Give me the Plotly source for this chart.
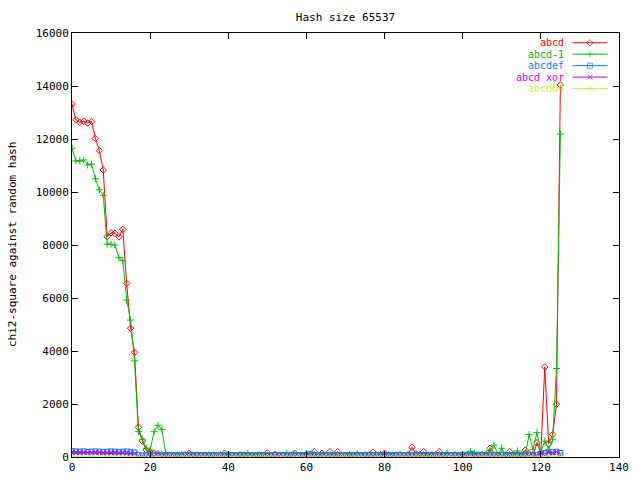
import plotly.graph_objects as go

x_vals = list(range(126))

abcd = [
    13320, 12720, 12630, 12670, 12600, 12660, 12020, 11560, 10830, 8310,
    8460, 8440, 8310, 8590, 6550, 4860, 3950, 1120, 600, 260,
    180, 150, 120, 90, 60, 50, 40, 60, 50, 80,
    140, 60, 50, 40, 70, 50, 60, 40, 80, 140,
    90, 60, 50, 70, 40, 60, 50, 40, 70, 60,
    150, 60, 100, 50, 40, 60, 70, 140, 60, 50,
    80, 60, 200, 60, 140, 50, 200, 60, 200, 60,
    50, 80, 60, 70, 50, 60, 80, 180, 60, 90,
    140, 60, 50, 70, 80, 60, 90, 370, 120, 60,
    200, 60, 50, 80, 200, 60, 70, 50, 80, 60,
    90, 60, 80, 50, 60, 90, 70, 330, 80, 60,
    90, 60, 200, 70, 80, 60, 260, 120, 80, 540,
    140, 3400, 500, 850, 1990, 14040]

abcd_1 = [
    11650, 11170, 11170, 11210, 11020, 11050, 10500, 10080, 9870, 8030,
    8030, 8000, 7520, 7410, 5920, 5170, 3630, 955, 670, 330,
    260, 955, 1200, 1040, 140, 60, 40, 50, 80, 60,
    50, 70, 40, 60, 50, 80, 60, 40, 60, 50,
    70, 60, 50, 80, 60, 140, 50, 60, 70, 40,
    60, 50, 80, 60, 50, 140, 60, 70, 50, 60,
    140, 60, 80, 50, 60, 70, 50, 60, 80, 60,
    50, 70, 60, 140, 60, 80, 50, 60, 70, 50,
    60, 80, 60, 50, 70, 60, 50, 80, 60, 70,
    60, 50, 80, 60, 70, 50, 140, 60, 80, 60,
    70, 80, 200, 140, 60, 80, 120, 250, 450, 100,
    330, 80, 60, 100, 230, 80, 90, 850, 290, 920,
    200, 600, 290, 670, 3340, 12190]

abcdef = [
    220, 210, 200, 210, 190, 200, 210, 200, 190, 200,
    210, 200, 190, 200, 210, 180, 170, 80, 60, 70,
    60, 80, 70, 60, 70, 80, 60, 70, 60, 80,
    70, 60, 80, 70, 60, 70, 80, 60, 70, 60,
    80, 70, 60, 70, 80, 60, 70, 60, 80, 70,
    60, 70, 80, 60, 70, 60, 80, 70, 60, 70,
    80, 120, 70, 60, 80, 70, 60, 70, 80, 60,
    70, 60, 80, 70, 60, 70, 80, 60, 70, 60,
    80, 70, 60, 70, 80, 60, 70, 60, 80, 70,
    60, 70, 80, 60, 70, 60, 80, 70, 60, 70,
    80, 60, 120, 60, 80, 70, 60, 70, 80, 60,
    70, 60, 80, 70, 60, 70, 80, 60, 70, 80,
    100, 150, 120, 180, 200, 150]

abcd_xor = [
    170, 160, 150, 170, 160, 150, 160, 170, 150, 140,
    150, 160, 140, 150, 140, 130, 120, 30, 20, 30,
    20, 30, 20, 10, 20, 30, 20, 10, 20, 30,
    20, 10, 20, 30, 20, 10, 20, 30, 20, 10,
    20, 30, 20, 10, 20, 30, 20, 10, 20, 30,
    20, 10, 20, 30, 20, 10, 20, 30, 20, 10,
    20, 30, 20, 10, 20, 30, 20, 10, 20, 30,
    20, 10, 20, 30, 20, 10, 20, 30, 20, 10,
    20, 30, 20, 10, 20, 30, 20, 10, 20, 30,
    20, 10, 20, 30, 20, 10, 20, 30, 20, 10,
    20, 30, 20, 10, 20, 30, 20, 10, 20, 30,
    20, 10, 20, 30, 20, 10, 20, 30, 20, 60,
    150, 100, 180, 150, 200, 100]

abcd64 = [
    10, 20, 10, 0, 10, 20, 10, 0, 10, 20,
    10, 0, 10, 20, 10, 0, 10, 20, 10, 0,
    10, 20, 10, 0, 10, 20, 10, 0, 10, 20,
    10, 0, 10, 20, 10, 0, 10, 20, 10, 0,
    10, 20, 10, 0, 10, 20, 10, 0, 10, 20,
    10, 0, 10, 20, 10, 0, 10, 20, 10, 0,
    10, 20, 10, 0, 10, 20, 10, 0, 10, 20,
    10, 0, 10, 20, 10, 0, 10, 20, 10, 0,
    10, 20, 10, 0, 10, 20, 10, 0, 10, 20,
    10, 0, 10, 20, 10, 0, 10, 20, 10, 0,
    10, 20, 10, 0, 10, 20, 10, 0, 10, 20,
    10, 0, 10, 20, 10, 0, 10, 20, 10, 0,
    10, 20, 10, 0, 10, 20]

names = ["abcd", "abcd-1", "abcdef", "abcd xor", "abcd64"]
series = [abcd, abcd_1, abcdef, abcd_xor, abcd64]
colors = ["#ff0000", "#00c000", "#0080ff", "#c000ff", "#c0f040"]
symbols = ["diamond-open", "cross-thin", "square-open", "x-thin", "triangle-up-open"]

x_ticks = [0, 20, 40, 60, 80, 100, 120, 140]
y_ticks = [0, 2000, 4000, 6000, 8000, 10000, 12000, 14000, 16000]

FONT = "DejaVu Sans Mono"

fig = go.Figure()
for name, ys, c, s in zip(names, series, colors, symbols):
    fig.add_trace(go.Scatter(
        x=x_vals, y=ys, mode="lines+markers", name=name,
        line=dict(color=c, width=1),
        marker=dict(symbol=s, size=5, color=c, line=dict(color=c, width=1)),
        showlegend=False, cliponaxis=True))

# manual gnuplot-style legend (text right, sample line to the right)
leg_rows = [0.977, 0.950, 0.923, 0.896, 0.869]
for i, (name, c, s) in enumerate(zip(names, colors, symbols)):
    fig.add_trace(go.Scatter(
        x=[0.915, 0.947, 0.979], y=[leg_rows[i]] * 3, xaxis="x2", yaxis="y2",
        mode="lines+markers", line=dict(color=c, width=1),
        marker=dict(symbol=s, size=[0, 5, 0], color=c, line=dict(color=c, width=1)),
        showlegend=False, hoverinfo="skip"))
    fig.add_annotation(x=0.901, y=leg_rows[i], xref="paper", yref="paper",
                       text=name, showarrow=False, xanchor="right", yanchor="middle",
                       borderpad=0,
                       font=dict(family=FONT, size=10, color=c))

# y axis title placed like gnuplot
fig.add_annotation(x=-60 / 547, y=0.5, xref="paper", yref="paper",
                   text="chi2-square against random hash", textangle=-90,
                   showarrow=False, xanchor="center", yanchor="middle",
                   font=dict(family=FONT, size=11, color="black"))

fig.update_layout(
    width=640, height=480,
    margin=dict(l=72, r=21, t=33, b=23),
    paper_bgcolor="white", plot_bgcolor="white",
    font=dict(family=FONT, size=11, color="black"),
    title=dict(text="Hash size 65537", x=0.5, xref="paper", y=1 - 17 / 480,
               yref="container", xanchor="center", yanchor="middle",
               font=dict(family=FONT, size=11, color="black")),
    xaxis=dict(range=[0, 140], tickvals=x_ticks, ticktext=[str(v) for v in x_ticks],
               ticks="inside", ticklen=6, automargin=False,
               tickcolor="black", showline=True, linecolor="black", linewidth=1,
               mirror="ticks", showgrid=False, zeroline=False),
    yaxis=dict(range=[0, 16000], tickvals=y_ticks, ticktext=[str(v) for v in y_ticks],
               ticks="inside", ticklen=6, automargin=False,
               tickcolor="black", showline=True, linecolor="black", linewidth=1,
               mirror="ticks", showgrid=False, zeroline=False),
    xaxis2=dict(range=[0, 1], overlaying="x", visible=False, fixedrange=True),
    yaxis2=dict(range=[0, 1], overlaying="y", visible=False, fixedrange=True),
)

fig.write_html("out.html", config={"displayModeBar": False},
               post_script="document.body.style.margin='0px';document.body.style.overflow='hidden';")
